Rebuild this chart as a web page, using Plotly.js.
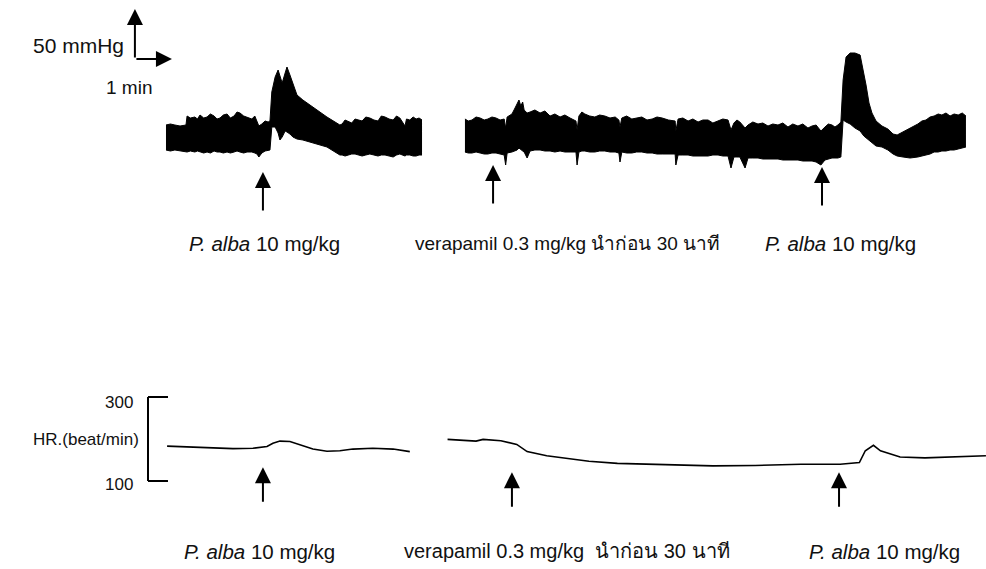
<!DOCTYPE html>
<html><head><meta charset="utf-8">
<script src="https://cdn.plot.ly/plotly-3.0.1.min.js"></script>
<style>html,body{margin:0;padding:0;background:#fff;}#chart{width:986px;height:569px;}</style>
</head><body><div id="chart"></div>
<script>
// ---- Blood pressure (mmHg) envelope, segment 1 (control) ----
const bp1Time = [0.00,0.12,0.24,0.38,0.54,0.57,0.66,0.78,0.85,0.92,1.02,1.11,1.20,1.30,1.38,1.46,1.55,1.65,1.74,1.84,1.92,2.00,2.10,2.19,2.32,2.40,2.46,2.51,2.59,2.68,2.76,
  2.81,2.86,2.95,3.03,3.08,3.14,3.22,3.27,3.35,3.43,3.54,3.70,3.97,4.35,
  4.70,4.76,4.84,4.92,5.02,5.11,5.20,5.30,5.40,5.51,5.62,5.73,5.82,5.92,6.03,6.14,6.23,6.32,6.46,6.50,6.59,6.68,6.76,6.84,6.92];
const bp1Upper = [120,121,120,119,120,129,127,128,126,130,127,128,131,129,126,127,130,131,127,129,133,132,129,128,126,129,124,119,121,124,123,
  124,153,168,175,168,162,172,178,170,162,150,145,138,128,
  120,121,125,124,122,126,125,124,128,127,125,124,129,128,126,125,129,127,119,126,125,128,126,127,125];
const bp1Lower = [95,94,95,94,93,93,94,93,94,93,92,93,92,94,93,93,92,93,92,93,94,93,92,93,93,92,91,88,92,94,95,
  95,118,118,112,105,108,114,113,111,108,106,105,102,98,
  90,90,89,90,91,91,90,89,90,91,90,89,90,90,89,88,90,91,89,90,90,89,89,90,90];

// ---- Blood pressure (mmHg) envelope, segment 2 (verapamil pre-treated) ----
const bp2Time = [8.08,8.17,8.27,8.38,8.49,8.60,8.70,8.81,8.92,9.03,9.14,
  9.18,9.22,9.35,9.42,9.49,9.54,9.59,9.64,9.68,9.76,9.84,9.97,10.11,10.24,10.38,10.51,10.65,10.78,10.92,11.08,
  11.11,11.16,11.24,11.32,11.45,11.59,11.72,11.86,12.00,12.14,12.24,12.27,12.32,12.45,12.59,12.72,12.86,13.00,13.14,13.27,13.41,13.58,13.76,
  13.78,13.84,13.97,14.11,14.24,14.38,14.51,14.65,14.78,14.92,15.05,15.19,
  15.27,15.35,15.43,15.51,15.65,15.73,15.86,16.00,16.13,16.27,16.40,16.54,16.67,16.81,16.94,17.08,17.21,17.35,17.46,17.57,17.70,17.81,17.90,18.00,18.08,18.16,18.24,
  18.30,18.38,18.49,18.62,18.76,18.86,18.92,19.00,19.08,19.19,19.35,19.51,19.65,19.76,19.92,20.11,20.32,20.43,20.54,20.65,20.76,20.87,20.97,21.08,21.19,21.30,21.41,21.52,21.62];
const bp2Upper = [126,124,125,128,127,125,126,128,127,125,126,
  117,128,131,136,142,145,139,143,135,132,133,135,132,134,129,131,128,130,127,124,
  115,129,133,131,129,128,130,129,127,128,125,118,127,129,126,127,128,125,126,128,127,125,124,
  114,126,127,124,126,123,125,125,122,124,126,125,
  115,122,125,123,117,120,123,121,122,119,121,120,122,118,121,119,121,117,119,120,114,118,121,120,118,120,123,
  165,188,192,192,190,172,160,142,132,124,119,116,111,110,113,117,121,124,125,128,129,131,130,132,129,131,130,132,129];
const bp2Lower = [93,92,92,93,92,91,91,92,92,91,90,
  80,92,93,94,95,97,95,94,93,87,94,95,95,94,94,93,94,93,93,93,
  80,93,94,94,93,93,94,94,93,93,92,83,93,92,92,93,93,92,92,91,91,91,91,
  80,90,90,90,89,89,89,89,90,90,89,89,
  77,88,88,88,77,87,87,87,86,86,86,86,85,85,85,85,84,84,84,83,80,85,86,87,87,87,88,
  125,123,121,117,114,109,107,105,102,99,98,95,91,89,88,87,88,89,90,91,93,93,94,94,95,95,96,97,98];

// ---- Heart rate (beat/min) ----
const hr1Time = [0.03,0.92,1.81,2.35,2.73,2.89,3.08,3.35,3.62,3.97,4.35,4.70,5.05,5.59,6.14,6.59];
const hr1 = [183,180,177,178,182,190,195,194,186,176,171,172,176,178,176,170];
const hr2Time = [7.61,8.38,8.57,9.05,9.48,9.76,10.29,10.86,11.43,12.20,13.34,14.78,15.92,17.16,18.22,18.74,18.90,19.12,19.31,19.84,20.51,21.46,22.03,22.16];
const hr2 = [199,195,199,196,187,170,160,154,147,142,139,136,137,140,140,144,172,185,172,157,155,158,160,160];

// ---- Injection markers (time, min) and labels ----
const bpArrowTime = [2.62, 8.84, 17.73];
const bpArrowTip = [73, 80, 78];
const hrArrowTime = [2.62, 9.35, 18.19];
const hrArrowTip = [133, 121, 121];
const bpLabelTime = [2.65, 10.86, 18.22];
const hrLabelTime = [2.54, 10.84, 19.41];
const bpLabels = ['<i>P. alba</i> 10 mg/kg', 'verapamil 0.3 mg/kg นำก่อน 30 นาที', '<i>P. alba</i> 10 mg/kg'];
const hrLabels = ['<i>P. alba</i> 10 mg/kg', 'verapamil 0.3 mg/kg&nbsp; นำก่อน 30 นาที', '<i>P. alba</i> 10 mg/kg'];
const labelSizes = [20.5, 19, 20.5];
const hrLabelSizes = [20.5, 20, 20.5];
const bpLabelLevel = 2;
const hrLabelLevel = -67;

// ---- Scale bars ----
const scaleTime = -0.84, scaleBP = 186, scaleBPLen = 50, scaleTimeLen = 1;
const hrBracketTime = -0.486, hrBracketTick = 0.054, hrTicks = [300, 100];

const FAMILY = 'Liberation Sans, Arial, Helvetica, sans-serif';
const font = s => ({family: FAMILY, size: s, color: '#111'});
const band = (t, lo, hi) => [
  {x: t, y: lo, type: 'scatter', mode: 'lines', line: {color: '#000', width: 1}, hoverinfo: 'skip'},
  {x: t, y: hi, type: 'scatter', mode: 'lines', fill: 'tonexty', fillcolor: '#000', line: {color: '#000', width: 1}, hoverinfo: 'skip'}
];
const traces = [
  ...band(bp1Time, bp1Lower, bp1Upper),
  ...band(bp2Time, bp2Lower, bp2Upper),
  {x: hr1Time, y: hr1, yaxis: 'y2', type: 'scatter', mode: 'lines', line: {color: '#000', width: 1.6}},
  {x: hr2Time, y: hr2, yaxis: 'y2', type: 'scatter', mode: 'lines', line: {color: '#000', width: 1.6}}
];

const arrowStyle = {showarrow: true, arrowhead: 2, arrowsize: 1.6, arrowwidth: 2, arrowcolor: '#000', text: ''};
const annotations = [];
bpArrowTime.forEach((t, i) => annotations.push({...arrowStyle, x: t, y: bpArrowTip[i], xref: 'x', yref: 'y', ax: 0, ay: 40}));
hrArrowTime.forEach((t, i) => annotations.push({...arrowStyle, x: t, y: hrArrowTip[i], xref: 'x', yref: 'y2', ax: 0, ay: 36}));
bpLabelTime.forEach((t, i) => annotations.push({x: t, y: bpLabelLevel, xref: 'x', yref: 'y', text: bpLabels[i], showarrow: false, font: font(labelSizes[i])}));
hrLabelTime.forEach((t, i) => annotations.push({x: t, y: hrLabelLevel, xref: 'x', yref: 'y2', text: hrLabels[i], showarrow: false, font: font(hrLabelSizes[i])}));
// scale bar arrows
annotations.push({...arrowStyle, x: scaleTime, y: scaleBP + scaleBPLen, xref: 'x', yref: 'y', ax: scaleTime, ay: scaleBP, axref: 'x', ayref: 'y'});
annotations.push({...arrowStyle, x: scaleTime + scaleTimeLen, y: scaleBP, xref: 'x', yref: 'y', ax: scaleTime, ay: scaleBP, axref: 'x', ayref: 'y'});
annotations.push({x: scaleTime - 0.24, y: scaleBP + 14, xref: 'x', yref: 'y', text: '50 mmHg', showarrow: false, xanchor: 'right', font: font(21)});
annotations.push({x: scaleTime - 0.16, y: scaleBP - 28, xref: 'x', yref: 'y', text: '1 min', showarrow: false, font: font(19)});
// HR bracket labels
annotations.push({x: scaleTime, y: 288, xref: 'x', yref: 'y2', text: '300', showarrow: false, xanchor: 'right', font: font(17)});
annotations.push({x: scaleTime, y: 92, xref: 'x', yref: 'y2', text: '100', showarrow: false, xanchor: 'right', font: font(17)});
annotations.push({x: -0.68, y: 200, xref: 'x', yref: 'y2', text: 'HR.(beat/min)', showarrow: false, xanchor: 'right', font: font(17)});

const lineStyle = {color: '#000', width: 2};
const shapes = [
  {type: 'line', xref: 'x', yref: 'y2', x0: hrBracketTime, x1: hrBracketTime, y0: hrTicks[0], y1: hrTicks[1], line: lineStyle},
  {type: 'line', xref: 'x', yref: 'y2', x0: hrBracketTime, x1: hrBracketTick, y0: hrTicks[0], y1: hrTicks[0], line: lineStyle},
  {type: 'line', xref: 'x', yref: 'y2', x0: hrBracketTime, x1: hrBracketTick, y0: hrTicks[1], y1: hrTicks[1], line: lineStyle}
];

const layout = {
  width: 986, height: 569,
  margin: {l: 0, r: 0, t: 0, b: 0, pad: 0},
  paper_bgcolor: '#fff', plot_bgcolor: '#fff',
  showlegend: false,
  xaxis: {range: [-4.486, 22.162], visible: false, fixedrange: true},
  yaxis: {range: [-324, 245], visible: false, fixedrange: true},
  yaxis2: {range: [-109.5, 1245.2], overlaying: 'y', visible: false, fixedrange: true},
  annotations, shapes
};
Plotly.newPlot('chart', traces, layout, {displayModeBar: false, staticPlot: true});
</script>
</body></html>
